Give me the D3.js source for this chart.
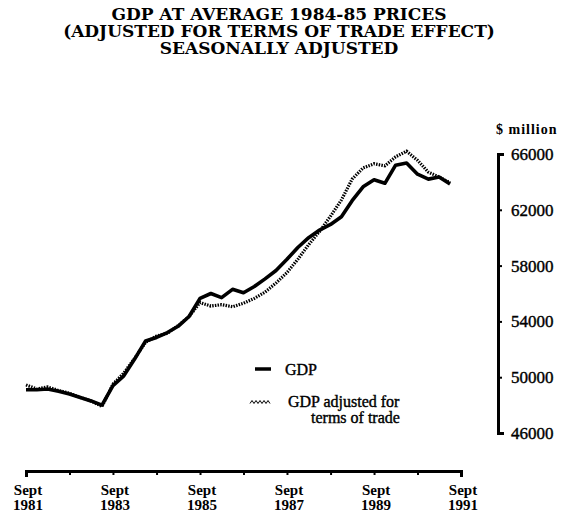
<!DOCTYPE html>
<html>
<head>
<meta charset="utf-8">
<script src="https://cdn.jsdelivr.net/npm/d3@7"></script>
<style>
	body { margin: 0; background: #fff; }
	svg { font-family: 'Liberation Serif', 'DejaVu Serif', serif; }
</style>
</head>
<body>
<script>
// Quarterly, Sept 1981 to June 1991 ($ million, 1984-85 prices)
const quarters = d3.range(40).map((i) => new Date(1981, 8 + i * 3, 1));
const gdp = [
	49100, 49100, 49150, 49000, 48800, 48550, 48300, 48000,
	49400, 50100, 51300, 52600, 52850, 53200, 53650, 54350,
	55650, 56000, 55700, 56300, 56050, 56500, 57050, 57650,
	58450, 59300, 60000, 60550, 60950, 61500, 62650, 63650,
	64150, 63900, 65200, 65350, 64550, 64200, 64350, 63850
];
const gdpAdjusted = [
	49450, 49150, 49300, 49050, 48850, 48550, 48300, 47900,
	49500, 50300, 51350, 52500, 52950, 53150, 53700, 54350,
	55350, 55100, 55200, 55050, 55300, 55650, 56100, 56750,
	57500, 58450, 59500, 60450, 61550, 62700, 64200, 65000,
	65300, 65150, 65800, 66200, 65550, 64700, 64350, 63950
];
const yTicks = [46000, 50000, 54000, 58000, 62000, 66000];
const xLabelYears = [1981, 1983, 1985, 1987, 1989, 1991];
const titleLines = [
	'GDP AT AVERAGE 1984-85 PRICES',
	'(ADJUSTED FOR TERMS OF TRADE EFFECT)',
	'SEASONALLY ADJUSTED'
];

const width = 570;
const height = 522;

const svg = d3.select('body').append('svg').attr('width', width).attr('height', height);

// Title
svg.selectAll('.title')
	.data(titleLines)
	.enter()
	.append('text')
	.attr('class', 'title')
	.attr('x', 279)
	.attr('y', (d, i) => 20 + i * 17)
	.attr('text-anchor', 'middle')
	.style('font-family', 'DejaVu Serif')
	.style('font-size', '17px')
	.style('font-weight', 'bold')
	.text((d) => d);

const x = d3.scaleTime().domain([new Date(1981, 8, 1), new Date(1991, 8, 1)]).range([26, 461]);
const y = d3.scaleLinear().domain([46000, 66000]).range([433, 154]);

// Right axis
const yAxis = svg
	.append('g')
	.attr('transform', 'translate(498,0)')
	.call(d3.axisRight(y).tickValues(yTicks).tickSizeInner(4).tickSizeOuter(6).tickPadding(9).tickFormat(d3.format('d')));
yAxis.select('.domain').attr('stroke-width', 3);
yAxis.selectAll('.tick line').attr('stroke-width', 2);
yAxis.selectAll('text')
	.style('font-size', '17px')
	.style('font-family', 'Liberation Serif')
	.attr('stroke', '#000')
	.attr('stroke-width', 0.4);

svg.append('text')
	.attr('x', 496)
	.attr('y', 134)
	.style('font-size', '14px')
	.style('letter-spacing', '1px')
	.style('font-weight', 'bold')
	.text('$ million');

// Bottom axis, one tick per year
const years = d3.range(1981, 1992).map((yr) => new Date(yr, 8, 1));
const xAxis = svg
	.append('g')
	.attr('transform', 'translate(0,471)')
	.call(d3.axisBottom(x).tickValues(years).tickSizeInner(4).tickSizeOuter(6).tickFormat(''));
xAxis.select('.domain').attr('stroke-width', 3);
xAxis.selectAll('.tick line').attr('stroke-width', 2);

const xLabels = svg
	.selectAll('.xlabel')
	.data(xLabelYears)
	.enter()
	.append('text')
	.attr('class', 'xlabel')
	.attr('text-anchor', 'middle')
	.attr('transform', (d) => `translate(${x(new Date(d, 8, 1)) + 2},0)`)
	.style('font-size', '15px')
	.style('font-weight', 'bold');
xLabels.append('tspan').attr('x', 0).attr('y', 495).text('Sept');
xLabels.append('tspan').attr('x', 0).attr('y', 510).text((d) => d);

// Lines
const line = (values) =>
	d3
		.line()
		.x((d, i) => x(quarters[i]))
		.y((d) => y(d))(values);

svg.append('path')
	.attr('d', line(gdpAdjusted))
	.attr('fill', 'none')
	.attr('stroke', '#000')
	.attr('stroke-width', 3.2)
	.attr('stroke-dasharray', '1.5,1.2');

svg.append('path')
	.attr('d', line(gdp))
	.attr('fill', 'none')
	.attr('stroke', '#000')
	.attr('stroke-width', 3.6)
	.attr('stroke-linejoin', 'round');

// Legend
svg.append('line')
	.attr('x1', 255).attr('x2', 271)
	.attr('y1', 369).attr('y2', 369)
	.attr('stroke', '#000').attr('stroke-width', 3.5);

const legendText = svg.append('g').attr('stroke', '#000').attr('stroke-width', 0.4).style('font-size', '16px');
legendText.append('text').attr('x', 285).attr('y', 375).text('GDP');

const zig = d3.range(0, 11).map((i) => [250 + i * 2, 402 + (i % 2 ? -1.5 : 1.5)]);
svg.append('path')
	.attr('d', d3.line()(zig))
	.attr('fill', 'none')
	.attr('stroke', '#000')
	.attr('stroke-width', 1);
legendText.append('text').attr('x', 288).attr('y', 407).text('GDP adjusted for');
legendText.append('text').attr('x', 311).attr('y', 423).text('terms of trade');
</script>
</body>
</html>
